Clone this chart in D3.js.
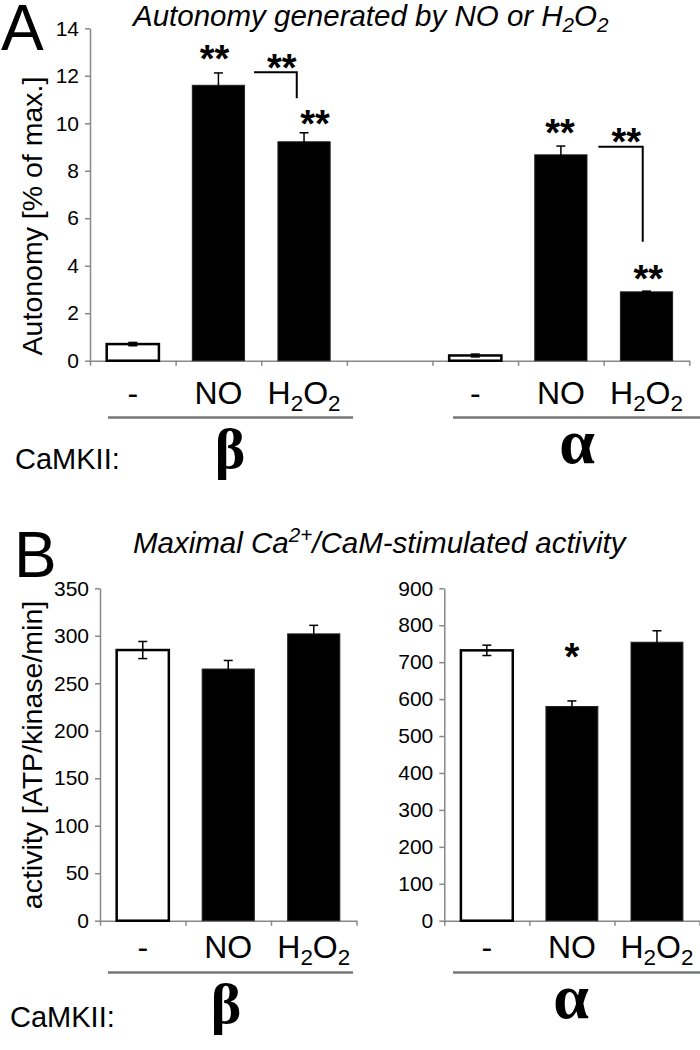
<!DOCTYPE html>
<meta charset="utf-8">
<style>
body { margin: 0; background: #fff; }
svg text { font-family: Arial, "Liberation Sans", sans-serif; }
.axis path, .axis line { stroke: #888; stroke-width: 1.5px; }
.axis text { font-size: 21px; fill: #000; }
.greek { font-family: "Liberation Serif", "Times New Roman", serif !important; font-weight: bold; }
</style>
<body>
<script src="https://cdn.jsdelivr.net/npm/d3@7"></script>
<script>

var width = 700,
    height = 1050;

// treatments and isoforms
var treatments = ["-", "NO", "H2O2"];

// A: autonomy [% of max.]
var autoBeta = [0.7, 11.6, 9.22],
    autoBetaErr = [0.07, 0.52, 0.38],
    autoAlpha = [0.22, 8.67, 2.9],
    autoAlphaErr = [0.06, 0.37, 0.03],
    autoTicks = [0, 2, 4, 6, 8, 10, 12, 14];

// B: maximal activity [ATP/kinase/min]
var actBeta = [285, 265, 302],
    actBetaErr = [9, 9, 9],
    actAlpha = [732, 580, 754],
    actAlphaErr = [14, 15, 31],
    actBetaTicks = [0, 50, 100, 150, 200, 250, 300, 350],
    actAlphaTicks = [0, 100, 200, 300, 400, 500, 600, 700, 800, 900];

// significance marks, x in category slots, y in data units
var starsA = [
  {x: 1.454, v: 12.16, t: "**"},
  {x: 2.239, v: 11.78, t: "**"},
  {x: 2.628, v: 9.44, t: "**"},
  {x: 5.49, v: 9.04, t: "**"},
  {x: 6.265, v: 8.66, t: "**"},
  {x: 6.522, v: 2.9, t: "**"}
];
var bracketsA = [
  {x1: 1.916, x2: 2.415, v1: 12.15, v2: 11.05},
  {x1: 5.938, x2: 6.456, v1: 9.01, v2: 5.01}
];
var starsBAlpha = [{x: 1.5, v: 679, t: "*"}];

var svg = d3.select("body").append("svg")
    .attr("width", width)
    .attr("height", height);

// text with sub/superscripts
function rich(text, tokens, size) {
  var shift = 0;
  tokens.forEach(function(tk) {
    var target = tk[1] === "sub" ? size * 0.22 : tk[1] === "sup" ? -size * 0.36 : 0;
    text.append("tspan")
        .attr("dy", target - shift)
        .attr("font-size", tk[1] ? size * 0.7 : size)
        .text(tk[0]);
    shift = target;
  });
}

function catLabel(g, x, y, name) {
  var t = g.append("text")
      .attr("x", x)
      .attr("y", y)
      .attr("text-anchor", "middle")
      .attr("font-size", 32);
  if (name === "H2O2") rich(t, [["H"], ["2", "sub"], ["O"], ["2", "sub"]], 32);
  else t.text(name);
}

function bars(g, x, y, slots, vals, errs) {
  var step = x(1) - x(0),
      bw = step * 0.61;
  vals.forEach(function(v, i) {
    var cx = x(slots[i] + 0.5),
        e = errs[i];
    g.append("rect")
        .attr("x", cx - bw / 2)
        .attr("y", y(v))
        .attr("width", bw)
        .attr("height", y(0) - y(v))
        .attr("fill", i === 0 ? "#fff" : "#000")
        .attr("stroke", i === 0 ? "#000" : "#222")
        .attr("stroke-width", i === 0 ? 2.5 : 1);
    var eb = g.append("g").attr("stroke", "#000").attr("stroke-width", 1.5);
    eb.append("line").attr("x1", cx).attr("x2", cx).attr("y1", y(v - e)).attr("y2", y(v + e));
    [v - e, v + e].forEach(function(w) {
      eb.append("line").attr("x1", cx - 4.5).attr("x2", cx + 4.5).attr("y1", y(w)).attr("y2", y(w));
    });
  });
}

function stars(g, x, y, list) {
  list.forEach(function(s) {
    g.append("text")
        .attr("x", x(s.x))
        .attr("y", y(s.v))
        .attr("text-anchor", "middle")
        .attr("font-size", 38)
        .attr("font-weight", "bold")
        .text(s.t);
  });
}

function axes(g, x, y, ticks, nslots) {
  g.append("g")
      .attr("class", "axis")
      .attr("transform", "translate(0," + y(0) + ")")
      .call(d3.axisBottom(x).tickValues(d3.range(nslots + 1)).tickFormat("").tickSize(5).tickSizeOuter(0));
  g.append("g")
      .attr("class", "axis")
      .attr("transform", "translate(" + x(0) + ",0)")
      .call(d3.axisLeft(y).tickValues(ticks).tickSize(5).tickSizeOuter(0).tickPadding(6));
}

function groupLabels(g, lineY, betaX, alphaX, camY) {
  g.append("text").attr("x", camY.x).attr("y", lineY + camY.dy).attr("font-size", 29).text("CaMKII:");
  g.append("text").attr("class", "greek").attr("x", betaX).attr("y", lineY + 50)
      .attr("text-anchor", "middle").attr("font-size", 58).text("β");
  g.append("text").attr("class", "greek").attr("x", alphaX).attr("y", lineY + 45)
      .attr("text-anchor", "middle").attr("font-size", 64).text("α");
  [[108, 353], [453, 700]].forEach(function(d) {
    g.append("line").attr("x1", d[0]).attr("x2", d[1]).attr("y1", lineY).attr("y2", lineY)
        .attr("stroke", "#777").attr("stroke-width", 2.5);
  });
}

// ---------- panel A ----------
var gA = svg.append("g");
var xA = d3.scaleLinear().domain([0, 7]).range([90, 689.3]),
    yA = d3.scaleLinear().domain([0, 14]).range([360.7, 28.3]);

axes(gA, xA, yA, autoTicks, 7);
bars(gA, xA, yA, [0, 1, 2], autoBeta, autoBetaErr);
bars(gA, xA, yA, [4, 5, 6], autoAlpha, autoAlphaErr);
stars(gA, xA, yA, starsA);
bracketsA.forEach(function(b) {
  gA.append("path")
      .attr("d", "M" + xA(b.x1) + "," + yA(b.v1) + "H" + xA(b.x2) + "V" + yA(b.v2))
      .attr("fill", "none")
      .attr("stroke", "#000")
      .attr("stroke-width", 2);
});
[0, 1, 2, 4, 5, 6].forEach(function(s, i) {
  catLabel(gA, xA(s + 0.5), 404, treatments[i % 3]);
});
groupLabels(gA, 417.5, 230, 577, {x: 15, dy: 51});

gA.append("text").attr("x", 1).attr("y", 50).attr("font-size", 64).text("A");
rich(gA.append("text").attr("x", 133).attr("y", 26).attr("font-style", "italic").attr("font-size", 29.5),
    [["Autonomy generated by NO or H"], ["2", "sub"], ["O"], ["2", "sub"]], 29.5);
gA.append("text")
    .attr("transform", "translate(42," + 216 + ") rotate(-90)")
    .attr("text-anchor", "middle")
    .attr("font-size", 28.5)
    .text("Autonomy [% of max.]");

// ---------- panel B ----------
var gB = svg.append("g");
var xB1 = d3.scaleLinear().domain([0, 3]).range([100, 356.5]),
    yB1 = d3.scaleLinear().domain([0, 350]).range([920.7, 588.3]),
    xB2 = d3.scaleLinear().domain([0, 3]).range([444.3, 699.5]),
    yB2 = d3.scaleLinear().domain([0, 900]).range([920.7, 588.3]);

axes(gB, xB1, yB1, actBetaTicks, 3);
axes(gB, xB2, yB2, actAlphaTicks, 3);
bars(gB, xB1, yB1, [0, 1, 2], actBeta, actBetaErr);
bars(gB, xB2, yB2, [0, 1, 2], actAlpha, actAlphaErr);
stars(gB, xB2, yB2, starsBAlpha);
treatments.forEach(function(t, i) {
  catLabel(gB, xB1(i + 0.5), 958, t);
  catLabel(gB, xB2(i + 0.5), 958, t);
});
groupLabels(gB, 972.5, 226, 571, {x: 10, dy: 54});

gB.append("text").attr("x", 14).attr("y", 577).attr("font-size", 64).text("B");
rich(gB.append("text").attr("x", 133).attr("y", 553).attr("font-style", "italic").attr("font-size", 29.5),
    [["Maximal Ca"], ["2+", "sup"], ["/CaM-stimulated activity"]], 29.5);
gB.append("text")
    .attr("transform", "translate(42," + 755 + ") rotate(-90)")
    .attr("text-anchor", "middle")
    .attr("font-size", 28.5)
    .text("activity [ATP/kinase/min]");

</script>
